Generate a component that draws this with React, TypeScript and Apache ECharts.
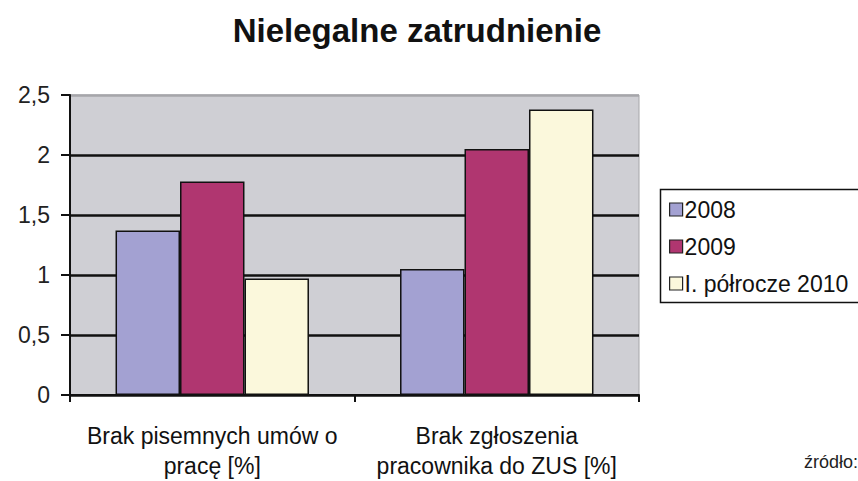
import React, { useEffect, useRef } from "react";
import * as echarts from "echarts";

const categories = ["Brak pisemnych umów o\npracę [%]", "Brak zgłoszenia\npracownika do ZUS [%]"];
const seriesNames = ["2008", "2009", "I. półrocze 2010"];
const values2008 = [1.37, 1.05];
const values2009 = [1.78, 2.05];
const values2010 = [0.97, 2.38];
const seriesColors = ["#a3a1d2", "#b03670", "#fbf8dc"];
const titleText = "Nielegalne zatrudnienie";
const sourceText = "źródło:";

const FONT = "Liberation Sans, Arial, sans-serif";

export default function App() {
  const ref = useRef<HTMLDivElement>(null);
  useEffect(() => {
    if (!ref.current) return;
    const chart = echarts.init(ref.current, null, { renderer: "svg" });
    const allValues = [values2008, values2009, values2010];
    chart.setOption({
      animation: false,
      backgroundColor: "#ffffff",
      textStyle: { fontFamily: FONT },
      graphic: [
        {
          type: "text",
          x: 417,
          y: 14,
          style: {
            text: titleText,
            fontSize: 33,
            fontWeight: "bold",
            fontFamily: FONT,
            fill: "#111",
            textAlign: "center",
          },
        },
        {
          type: "rect",
          shape: { x: 660.5, y: 189.5, width: 240, height: 113 },
          style: { fill: "#ffffff", stroke: "#111", lineWidth: 1.5 },
          z: 0,
        },
        {
          type: "text",
          x: 858,
          y: 453,
          style: {
            text: sourceText,
            fontSize: 18,
            fontFamily: "Liberation Sans Narrow, Liberation Sans, Arial, sans-serif",
            fill: "#222",
            textAlign: "right",
          },
        },
      ],
      legend: {
        orient: "vertical",
        left: 669,
        top: 198,
        itemWidth: 13,
        itemHeight: 13,
        itemGap: 14,
        icon: "rect",
        padding: 0,
        z: 5,
        itemStyle: { borderColor: "#222", borderWidth: 1.2 },
        textStyle: { fontSize: 23, color: "#111", padding: [0, 0, 0, -3] },
        data: seriesNames,
      },
      grid: {
        left: 70,
        right: 219,
        top: 95,
        bottom: 85,
        show: true,
        backgroundColor: "#cfcfd4",
        borderColor: "#a6a6aa",
        borderWidth: 1,
      },
      xAxis: {
        type: "category",
        data: categories,
        axisLine: { show: true, lineStyle: { color: "#111", width: 2 } },
        axisTick: { show: true, length: 7, lineStyle: { color: "#111", width: 2 } },
        axisLabel: {
          interval: 0,
          hideOverlap: false,
          fontSize: 23,
          color: "#111",
          lineHeight: 30,
          margin: 26,
        },
      },
      yAxis: {
        type: "value",
        min: 0,
        max: 2.5,
        interval: 0.5,
        axisLine: { show: true, lineStyle: { color: "#111", width: 2 } },
        axisTick: { show: true, length: 9, lineStyle: { color: "#111", width: 2 } },
        axisLabel: {
          fontSize: 23,
          color: "#222",
          margin: 20,
          formatter: (v: number) => String(v).replace(".", ","),
        },
        splitLine: {
          show: true,
          lineStyle: { color: ["#111", "#111", "#111", "#111", "#111", "#a6a6aa"], width: 2.5 },
        },
      },
      series: seriesNames.map((name, i) => ({
        name,
        type: "bar",
        data: allValues[i],
        barGap: "0%",
        barCategoryGap: "32%",
        itemStyle: { color: seriesColors[i], borderColor: "#111", borderWidth: 1.5 },
      })),
    });
    return () => chart.dispose();
  }, []);
  return (
    <div
      ref={ref}
      style={{ position: "fixed", left: 0, top: 0, width: 858, height: 481 }}
    />
  );
}
